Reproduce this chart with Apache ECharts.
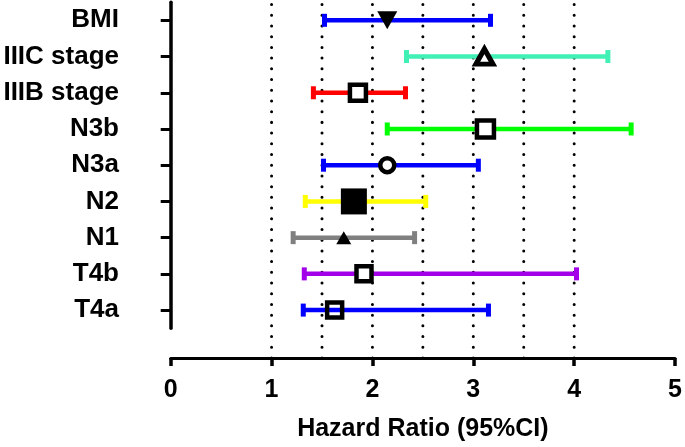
<!DOCTYPE html>
<html>
<head>
<meta charset="utf-8">
<script src="https://cdn.jsdelivr.net/npm/echarts@6/dist/echarts.min.js"></script>
<style>html,body{margin:0;padding:0;background:#fff}#c{width:685px;height:447px}</style>
</head>
<body>
<div id="c"></div>
<script>
// ---- data ----
const categories = ['BMI', 'IIIC stage', 'IIIB stage', 'N3b', 'N3a', 'N2', 'N1', 'T4b', 'T4a'];
const hazardRatio = [2.14, 3.10, 1.85, 3.11, 2.14, 1.81, 1.71, 1.91, 1.62];
const ciLow = [1.52, 2.33, 1.41, 2.14, 1.51, 1.33, 1.21, 1.32, 1.31];
const ciHigh = [3.16, 4.32, 2.32, 4.55, 3.04, 2.52, 2.41, 4.01, 3.14];
const xTicks = [0, 1, 2, 3, 4, 5];
const refLines = [1, 1.5, 2, 2.5, 3, 3.5, 4];
const xTitle = 'Hazard Ratio (95%CI)';

// ---- styles ----
const barColors = ['#0000FF', '#40F0B4', '#FF0000', '#00FF00', '#0000FF', '#FFFF00', '#808080', '#A100E8', '#0000FF'];
const markerStyles = [
  { symbol: 'triangle', rotate: 180, size: [20, 18], fill: '#000', border: 0 },
  { symbol: 'triangle', rotate: 0, size: [17, 15], fill: '#fff', border: 5 },
  { symbol: 'rect', rotate: 0, size: 16, fill: '#fff', border: 4.5 },
  { symbol: 'rect', rotate: 0, size: 17, fill: '#fff', border: 4.5 },
  { symbol: 'circle', rotate: 0, size: 14, fill: '#fff', border: 4.5 },
  { symbol: 'rect', rotate: 0, size: 26, fill: '#000', border: 0 },
  { symbol: 'triangle', rotate: 0, size: [15, 13], fill: '#000', border: 0 },
  { symbol: 'rect', rotate: 0, size: 15, fill: '#fff', border: 4.5 },
  { symbol: 'rect', rotate: 0, size: 15, fill: 'rgba(255,255,255,0)', border: 4.5 }
];

const FONT = '"Liberation Sans", Arial, sans-serif';
const chart = echarts.init(document.getElementById('c'), null, { renderer: 'canvas' });

const gridLeft = 170.7, gridRight = 8.3;

const option = {
  animation: false,
  backgroundColor: '#fff',
  grid: [
    { left: gridLeft, right: gridRight, top: 2.2, height: 326 },
    { left: gridLeft, right: gridRight, top: 0, bottom: 82.7 }
  ],
  xAxis: [
    { gridIndex: 0, type: 'value', min: 0, max: 5, interval: 1, show: false },
    {
      gridIndex: 1, type: 'value', min: 0, max: 5, interval: 1,
      axisLine: { show: true, lineStyle: { color: '#000', width: 3 } },
      axisTick: { show: true, length: 8, lineStyle: { color: '#000', width: 3.5 } },
      splitLine: { show: false },
      axisLabel: { color: '#000', fontSize: 25, fontWeight: 'bold', fontFamily: FONT, margin: 20,
        formatter: v => xTicks.indexOf(v) >= 0 ? String(v) : '' },
      name: xTitle, nameLocation: 'middle', nameGap: 59,
      nameTextStyle: { color: '#000', fontSize: 25, fontWeight: 'bold', fontFamily: FONT }
    }
  ],
  yAxis: [
    {
      gridIndex: 0, type: 'category', data: categories, inverse: true, offset: 36.7,
      axisLine: { show: true, lineStyle: { color: '#000', width: 3.5 } },
      axisTick: { show: true, alignWithLabel: true, length: 10, lineStyle: { color: '#000', width: 3 } },
      axisLabel: { color: '#000', fontSize: 26, fontWeight: 'bold', fontFamily: FONT, margin: 15 },
      splitLine: { show: false }
    },
    { gridIndex: 1, type: 'value', min: 0, max: 1, show: false }
  ],
  series: [
    {
      type: 'custom', xAxisIndex: 1, yAxisIndex: 1, silent: true, z: 1,
      data: refLines.map(v => [v]),
      renderItem: function (params, api) {
        const v = api.value(0);
        const p1 = api.coord([v, 0]);
        const p2 = api.coord([v, 1]);
        return {
          type: 'line',
          shape: { x1: p1[0], y1: p1[1], x2: p2[0], y2: p2[1] },
          style: { stroke: '#000', lineWidth: 3, lineDash: [0.01, 10.7], lineCap: 'round' }
        };
      }
    },
    {
      type: 'custom', xAxisIndex: 0, yAxisIndex: 0, silent: true, z: 2,
      data: categories.map((c, i) => [ciLow[i], ciHigh[i], i]),
      renderItem: function (params, api) {
        const idx = api.value(2);
        const lo = api.coord([api.value(0), idx]);
        const hi = api.coord([api.value(1), idx]);
        const col = barColors[idx];
        const capH = 13, capW = 5;
        return {
          type: 'group',
          children: [
            { type: 'line', shape: { x1: lo[0], y1: lo[1], x2: hi[0], y2: hi[1] },
              style: { stroke: col, lineWidth: 4.5 } },
            { type: 'rect', shape: { x: lo[0] - capW / 2, y: lo[1] - capH / 2, width: capW, height: capH },
              style: { fill: col } },
            { type: 'rect', shape: { x: hi[0] - capW / 2, y: hi[1] - capH / 2, width: capW, height: capH },
              style: { fill: col } }
          ]
        };
      }
    },
    {
      type: 'scatter', xAxisIndex: 0, yAxisIndex: 0, silent: true, z: 3,
      data: categories.map((c, i) => {
        const m = markerStyles[i];
        return {
          value: [hazardRatio[i], c],
          symbol: m.symbol,
          symbolSize: m.size,
          symbolRotate: m.rotate,
          itemStyle: { color: m.fill, borderColor: '#000', borderWidth: m.border, opacity: 1 }
        };
      })
    }
  ]
};
chart.setOption(option);
</script>
</body>
</html>
